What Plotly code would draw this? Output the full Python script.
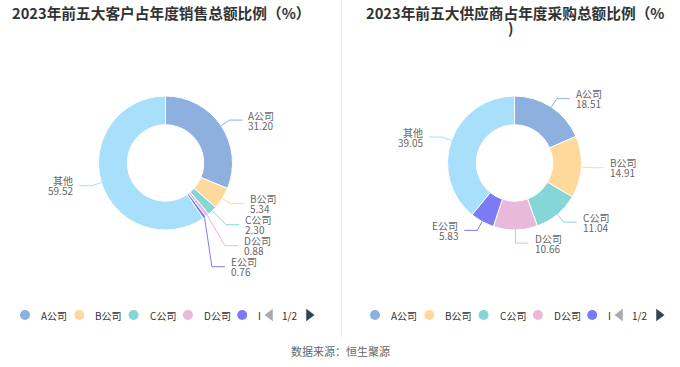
import math
import plotly.graph_objects as go

# ---------------- data ----------------
names = ["A公司", "B公司", "C公司", "D公司", "E公司", "其他"]
sales_values = [31.20, 5.34, 2.30, 0.88, 0.76, 59.52]
purchase_values = [18.51, 14.91, 11.04, 10.66, 5.83, 39.05]
colors = ["#8eb0de", "#ffd99b", "#86d6d8", "#e8b9d9", "#7b7bf5", "#a8dffa"]
legend_names = ["A公司", "B公司", "C公司", "D公司", "I"]
sales_title = "2023年前五大客户占年度销售总额比例（%）"
purchase_title_l1 = "2023年前五大供应商占年度采购总额比例（%"
purchase_title_l2 = ")"
source_text = "数据来源：恒生聚源"
page_text = "1/2"

# ---------------- style / layout constants ----------------
W, H = 680, 367
FONT = "Noto Sans CJK SC, Microsoft YaHei, sans-serif"
R = 67
HOLE = 0.57
LEN1, LEN2, GAP_T, MIN_GAP = 10, 13, 4, 21
ELL_B = 130
LABEL_COLOR = "#666666"

fig = go.Figure()
shapes = []
annotations = []


def add_donut(values, cx, cy):
    fig.add_trace(go.Pie(
        values=values, labels=names, sort=False, direction="clockwise", rotation=0,
        hole=HOLE, textinfo="none", hoverinfo="skip", showlegend=False,
        marker=dict(colors=colors, line=dict(color="white", width=1)),
        domain=dict(x=[(cx - R) / W, (cx + R) / W], y=[(H - cy - R) / H, (H - cy + R) / H]),
    ))
    total = sum(values)
    items = []
    cum = 0.0
    for i, v in enumerate(values):
        mid = (cum + v / 2) / total * 2 * math.pi
        cum += v
        s, c = math.sin(mid), math.cos(mid)
        side = 1 if s >= 0 else -1
        it = dict(i=i, v=v, side=side,
                  ex=cx + R * s, ey=cy - R * c,
                  bx=cx + (R + LEN1) * s, by=cy - (R + LEN1) * c)
        it["y"] = it["by"]
        items.append(it)
    for side in (1, -1):
        group = sorted([it for it in items if it["side"] == side], key=lambda t: t["by"])
        prev = None
        for it in group:
            if prev is not None and it["y"] < prev["y"] + MIN_GAP:
                it["y"] = prev["y"] + MIN_GAP
            prev = it
    for it in items:
        side = it["side"]
        bx = it["bx"]
        shift = it["y"] - it["by"]
        if shift > 5:
            dy = it["y"] - cy
            dx = (R + LEN1) * math.sqrt(max(0.0, 1 - (dy / ELL_B) ** 2))
            if shift < 10:
                bx = (bx + cx + side * dx) / 2
            else:
                bx = cx + side * dx
        y = it["y"]
        lx = bx + side * LEN2
        col = colors[it["i"]]
        shapes.append(dict(type="path", xref="x", yref="y",
                           path=f"M {it['ex']:.2f},{it['ey']:.2f} L {bx:.2f},{y:.2f} L {lx:.2f},{y:.2f}",
                           line=dict(color=col, width=1)))
        tx = lx + side * GAP_T
        anchor = "left" if side > 0 else "right"
        for txt, yy in ((names[it["i"]], y - 5), (f"{it['v']:.2f}", y + 5)):
            annotations.append(dict(x=tx, y=yy, xref="x", yref="y", text=txt, showarrow=False,
                                    xanchor=anchor, yanchor="middle",
                                    font=dict(family=FONT, size=10, color=LABEL_COLOR)))


def add_legend(x0, y0):
    step = 54.3
    xs = [x0 + k * step for k in range(len(legend_names))]
    fig.add_trace(go.Scatter(x=xs, y=[y0] * len(xs), mode="markers", hoverinfo="skip", showlegend=False,
                             marker=dict(size=10, color=colors[:len(legend_names)], symbol="circle"),
                             xaxis="x", yaxis="y"))
    for k, nm in enumerate(legend_names):
        annotations.append(dict(x=xs[k] + 14, y=y0, xref="x", yref="y", text=nm, showarrow=False,
                                xanchor="left", yanchor="middle",
                                font=dict(family=FONT, size=10, color="#333333")))
    fig.add_trace(go.Scatter(x=[x0 + 245, x0 + 284], y=[y0, y0], mode="markers", hoverinfo="skip",
                             showlegend=False,
                             marker=dict(size=11, symbol=["triangle-left", "triangle-right"],
                                         color=["#aaaaaa", "#2f4554"]),
                             xaxis="x", yaxis="y"))
    annotations.append(dict(x=x0 + 264.5, y=y0, xref="x", yref="y", text=page_text, showarrow=False,
                            xanchor="center", yanchor="middle",
                            font=dict(family=FONT, size=10, color="#333333")))


add_donut(sales_values, 165.5, 163)
add_donut(purchase_values, 514.5, 163)
add_legend(25, 315)
add_legend(375, 315)

# titles
title_font = dict(family=FONT, size=14.7, color="#333333")
annotations.append(dict(x=161, y=12, xref="x", yref="y", text=f"<b>{sales_title}</b>", showarrow=False,
                        xanchor="center", yanchor="middle", font=title_font))
annotations.append(dict(x=515, y=12, xref="x", yref="y", text=f"<b>{purchase_title_l1}</b>", showarrow=False,
                        xanchor="center", yanchor="middle", font=title_font))
annotations.append(dict(x=511, y=27, xref="x", yref="y", text=f"<b>{purchase_title_l2}</b>", showarrow=False,
                        xanchor="center", yanchor="middle", font=title_font))
annotations.append(dict(x=340, y=351, xref="x", yref="y", text=source_text, showarrow=False,
                        xanchor="center", yanchor="middle",
                        font=dict(family=FONT, size=11, color="#666666")))

# panel divider
shapes.append(dict(type="line", xref="x", yref="y", x0=341.5, x1=341.5, y0=0, y1=338,
                   line=dict(color="#eeeeee", width=1)))

fig.update_layout(
    width=W, height=H, margin=dict(l=0, r=0, t=0, b=0),
    paper_bgcolor="white", plot_bgcolor="rgba(0,0,0,0)",
    xaxis=dict(range=[0, W], visible=False, fixedrange=True, domain=[0, 1]),
    yaxis=dict(range=[H, 0], visible=False, fixedrange=True, domain=[0, 1]),
    shapes=shapes, annotations=annotations, showlegend=False,
)
fig.write_html("out.html", config={"displayModeBar": False},
               post_script="document.body.style.margin='0';document.body.style.overflow='hidden';")
